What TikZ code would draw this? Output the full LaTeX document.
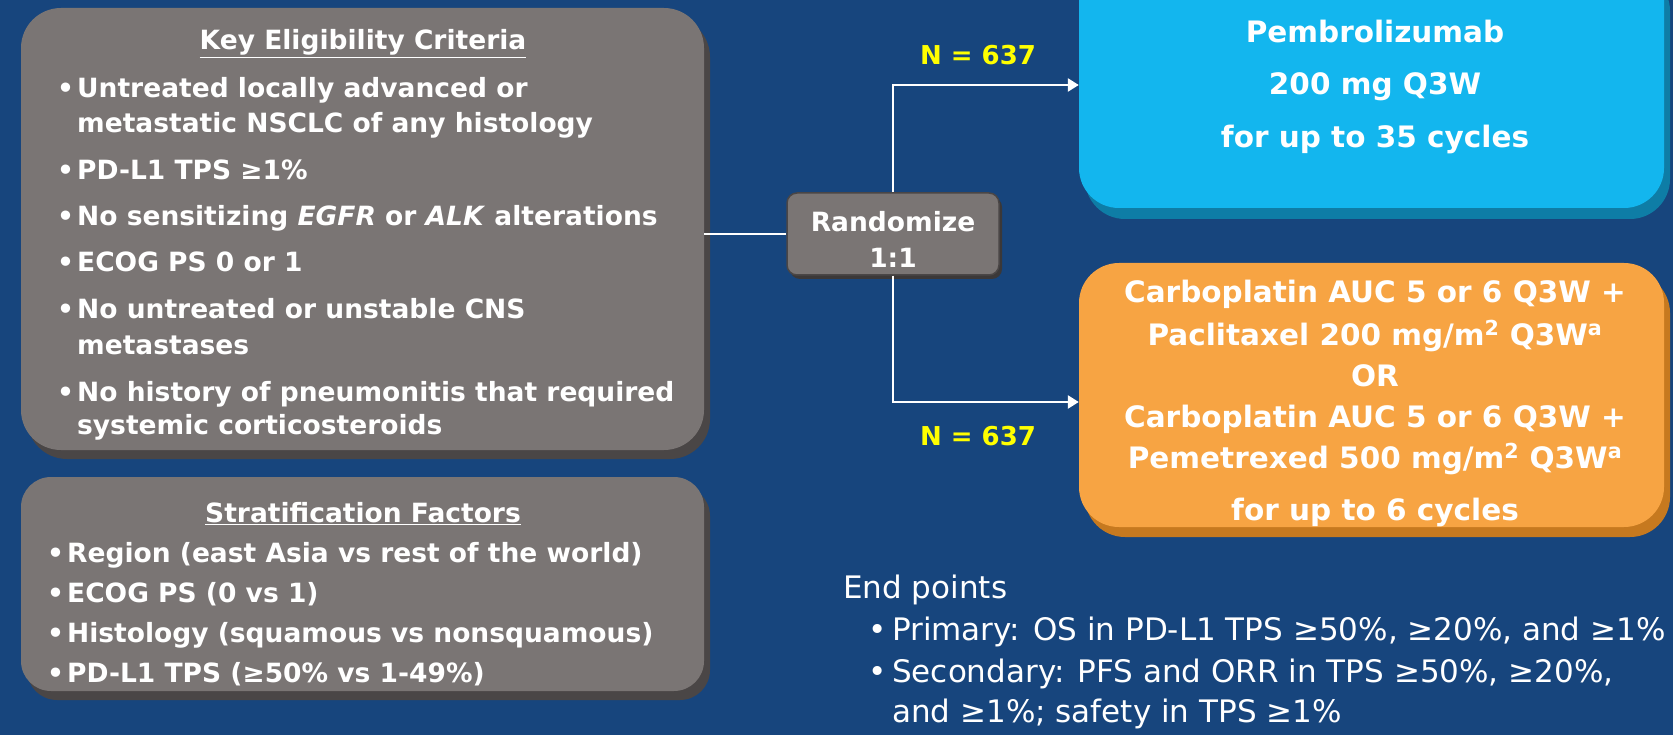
\documentclass[tikz,border=0pt]{standalone}
\usepackage{fontspec}
\setmainfont{DejaVu Sans}
\usetikzlibrary{arrows.meta,shadows}
\definecolor{bgblue}{HTML}{17457D}
\definecolor{boxgray}{HTML}{7A7574}
\definecolor{rimgray}{HTML}{4A4646}
\definecolor{pembro}{HTML}{13B6EE}
\definecolor{pembrorim}{HTML}{0E7DA6}
\definecolor{chemo}{HTML}{F7A443}
\definecolor{chemorim}{HTML}{C6791F}
\definecolor{nyellow}{HTML}{FFFF00}
\newcommand{\bul}[1]{\makebox[#1][l]{•}}
\begin{document}
\begin{tikzpicture}[x=1pt,y=-1pt,
  face/.style={rectangle, inner sep=0pt},
  graybox/.style={face, fill=boxgray, rounded corners=40pt,
    drop shadow={shadow xshift=6pt, shadow yshift=-9pt, fill=rimgray, opacity=1}},
  randbox/.style={face, fill=boxgray, rounded corners=10pt, draw=rimgray, line width=1.5pt,
    drop shadow={shadow xshift=3pt, shadow yshift=-4pt, fill=rimgray!80!black, opacity=1}},
  bluebox/.style={face, fill=pembro, rounded corners=40pt,
    drop shadow={shadow xshift=6pt, shadow yshift=-11pt, fill=pembrorim, opacity=1}},
  orangebox/.style={face, fill=chemo, rounded corners=40pt,
    drop shadow={shadow xshift=6pt, shadow yshift=-10pt, fill=chemorim, opacity=1}},
  ln/.style={anchor=base west, inner sep=0pt, text=white,
    font=\bfseries\fontsize{26.5}{32}\selectfont},
  ttl/.style={ln, anchor=base},
  ctr/.style={anchor=base, inner sep=0pt, text=white,
    font=\bfseries\fontsize{29.5}{36}\selectfont},
  nlab/.style={anchor=base, inner sep=0pt, text=nyellow, font=\bfseries\fontsize{26}{32}\selectfont},
  ep/.style={anchor=base west, inner sep=0pt, text=white,
    font=\fontsize{31}{37}\selectfont},
  conn/.style={draw=white, line width=2.5pt},
  arr/.style={conn, -{Triangle[length=11pt,width=13pt]}}]
\useasboundingbox (0,0) rectangle (1673,735);
\fill[bgblue] (0,0) rectangle (1673,735);
\clip (0,0) rectangle (1673,735);

% boxes
\node[graybox, minimum width=683pt, minimum height=442pt] (key) at (362.5,229) {};
\node[graybox, rounded corners=30pt, minimum width=683pt, minimum height=214pt] (strat) at (362.5,584) {};
\node[randbox, minimum width=212pt, minimum height=82pt] (rand) at (893,234) {};
\node[bluebox, minimum width=585pt, minimum height=248pt] (pembro) at (1371.5,84) {};
\node[orangebox, minimum width=585pt, minimum height=264pt] (chemo) at (1371.5,395) {};

% connectors
\coordinate (ta) at (893,85);
\coordinate (tb) at (893,402);
\draw[conn] (rand.west -| key.east) -- (rand.west);
\draw[arr] (rand.north) -- (ta) -- (ta -| pembro.west);
\draw[arr] (rand.south) -- (tb) -- (tb -| chemo.west);

% key eligibility
\node[ttl] (kt) at (363,50) {\underline{Key Eligibility Criteria}};
\node[ln] (k1) at (57,98) {\bul{20pt}Untreated locally advanced or};
\node[ln] (k1b) at (77,133) {metastatic NSCLC of any histology};
\node[ln] (k2) at (57,180) {\bul{20pt}PD-L1 TPS ≥1\%};
\node[ln] (k3) at (57,226) {\bul{20pt}No sensitizing \textit{EGFR} or \textit{ALK} alterations};
\node[ln] (k4) at (57,272) {\bul{20pt}ECOG PS 0 or 1};
\node[ln] (k5) at (57,319) {\bul{20pt}No untreated or unstable CNS};
\node[ln] (k5b) at (77,354) {metastases};
\node[ln] (k6) at (57,401) {\bul{20pt}No history of pneumonitis that required};
\node[ln] (k6b) at (77,434) {systemic corticosteroids};

% stratification
\node[ttl] (st) at (363,522) {\underline{Stratification Factors}};
\node[ln] (s1) at (47,562) {\bul{20pt}Region (east Asia vs rest of the world)};
\node[ln] (s2) at (47,602) {\bul{20pt}ECOG PS (0 vs 1)};
\node[ln] (s3) at (47,642) {\bul{20pt}Histology (squamous vs nonsquamous)};
\node[ln] (s4) at (47,682) {\bul{20pt}PD-L1 TPS (≥50\% vs 1-49\%)};

% randomize
\node[ttl] (r1) at (893,232) {Randomize};
\node[ttl] (r2) at (893,268) {1:1};

% N labels
\node[nlab] (n1) at (978,65) {N = 637};
\node[nlab] (n2) at (978,445) {N = 637};

% pembrolizumab
\node[ctr] (p1) at (1375,43) {Pembrolizumab};
\node[ctr] (p2) at (1375,95) {200 mg Q3W};
\node[ctr] (p3) at (1375,148) {for up to 35 cycles};

% chemo
\node[ctr] (c1) at (1375,303) {Carboplatin AUC 5 or 6 Q3W +};
\node[ctr] (c2) at (1375,345) {Paclitaxel 200 mg/m\textsuperscript{2} Q3W\textsuperscript{a}};
\node[ctr] (c3) at (1375,386) {OR};
\node[ctr] (c4) at (1375,427) {Carboplatin AUC 5 or 6 Q3W +};
\node[ctr] (c5) at (1375,468) {Pemetrexed 500 mg/m\textsuperscript{2} Q3W\textsuperscript{a}};
\node[ctr] (c6) at (1375,520) {for up to 6 cycles};

% end points
\node[ep] (e0) at (843,598) {End points};
\node[ep] (e1) at (868,640) {\bul{24pt}Primary: OS in PD-L1 TPS ≥50\%, ≥20\%, and ≥1\%};
\node[ep] (e2) at (868,682) {\bul{24pt}Secondary: PFS and ORR in TPS ≥50\%, ≥20\%,};
\node[ep] (e3) at (892,722) {and ≥1\%; safety in TPS ≥1\%};
\end{tikzpicture}
\end{document}
